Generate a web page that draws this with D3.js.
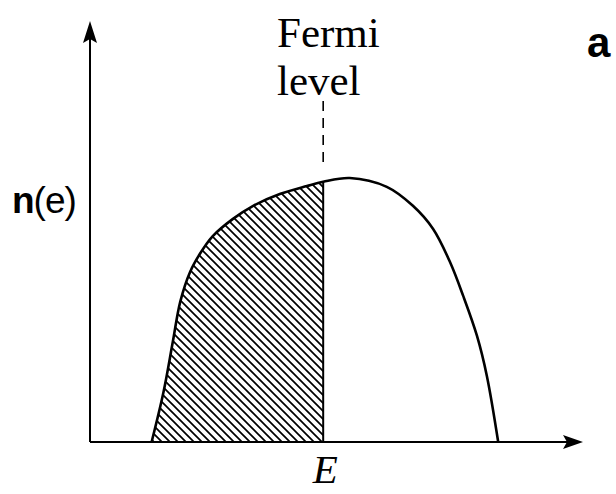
<!DOCTYPE html>
<html>
<head>
<meta charset="utf-8">
<script src="https://cdn.jsdelivr.net/npm/d3@7"></script>
<style>
  html, body { margin: 0; padding: 0; background: #fff; }
  svg { display: block; }
</style>
</head>
<body>
<div id="chart"></div>
<script>
// energy (arbitrary units) and density of states n(e)
const energy = [1.25, 1.49, 1.68, 1.83, 2.03, 2.23, 2.49, 2.90, 3.31, 3.85, 4.40, 4.73,
                5.27, 6.02, 6.55, 6.96, 7.30, 7.57, 7.85, 8.05, 8.28];
const density = [0, 1.18, 2.38, 3.33, 4.04, 4.47, 4.89, 5.30, 5.61, 5.89, 6.08, 6.18,
                 6.27, 6.06, 5.61, 5.06, 4.28, 3.47, 2.52, 1.57, 0];
const fermiEnergy = 4.73;
const fermiDash = [8.1, 6.5];
const labels = { fermi: ["Fermi", "level"], yAxis: "n(e)", xAxis: "E", panel: "a" };

const W = 616, H = 494;
const svg = d3.select("#chart").append("svg")
  .attr("width", W).attr("height", H);

const x = d3.scaleLinear().domain([0, 10]).range([90, 583]);
const y = d3.scaleLinear().domain([0, 10]).range([442, 21]);

const pts = energy.map((e, i) => ({ e, n: density[i] }));

// hatch pattern for occupied states
const defs = svg.append("defs");
const pat = defs.append("pattern")
  .attr("id", "hatch")
  .attr("patternUnits", "userSpaceOnUse")
  .attr("width", 8).attr("height", 8);
pat.append("path")
  .attr("d", "M-1,-1 L9,9 M-1,7 L1,9 M7,-1 L9,1")
  .attr("stroke", "#000")
  .attr("stroke-width", 1.7);

const line = d3.line()
  .x(d => x(d.e)).y(d => y(d.n))
  .curve(d3.curveCatmullRom.alpha(0.5));

// filled part: area under the curve up to the Fermi level
const occ = pts.filter(d => d.e <= fermiEnergy);
const area = d3.area()
  .x(d => x(d.e)).y0(y(0)).y1(d => y(d.n))
  .curve(d3.curveCatmullRom.alpha(0.5));
svg.append("path")
  .datum(occ)
  .attr("d", area)
  .attr("fill", "url(#hatch)");

// axes
svg.append("line")
  .attr("x1", x(0)).attr("x2", x(0))
  .attr("y1", y(0)).attr("y2", y(10) + 12)
  .attr("stroke", "#000").attr("stroke-width", 2);
svg.append("line")
  .attr("x1", x(0)).attr("x2", x(10) - 12)
  .attr("y1", y(0)).attr("y2", y(0))
  .attr("stroke", "#000").attr("stroke-width", 2);

svg.append("path")
  .attr("d", `M${x(0)},${y(10)} L${x(0) - 7},${y(10) + 22} L${x(0)},${y(10) + 18} L${x(0) + 7},${y(10) + 22} Z`)
  .attr("fill", "#000");
svg.append("path")
  .attr("d", `M${x(10)},${y(0)} L${x(10) - 20},${y(0) - 7} L${x(10) - 16},${y(0)} L${x(10) - 20},${y(0) + 7} Z`)
  .attr("fill", "#000");

// curve
svg.append("path")
  .datum(pts)
  .attr("d", line)
  .attr("fill", "none")
  .attr("stroke", "#000")
  .attr("stroke-width", 2.6)
  .attr("stroke-linejoin", "round");

// Fermi level: solid edge of the hatching plus dashed marker above
const nF = density[energy.indexOf(fermiEnergy)];
svg.append("line")
  .attr("x1", x(fermiEnergy)).attr("x2", x(fermiEnergy))
  .attr("y1", y(0)).attr("y2", y(nF))
  .attr("stroke", "#000").attr("stroke-width", 2);
svg.append("line")
  .attr("x1", x(fermiEnergy)).attr("x2", x(fermiEnergy))
  .attr("y1", y(fermiDash[0])).attr("y2", y(fermiDash[1]))
  .attr("stroke", "#000").attr("stroke-width", 1.6)
  .attr("stroke-dasharray", "10,7");

// labels
const serif = "'Liberation Serif', 'DejaVu Serif', serif";
svg.append("text")
  .attr("x", 277).attr("y", 47)
  .style("font-family", serif).style("font-size", "43px")
  .text(labels.fermi[0]);
svg.append("text")
  .attr("x", 277).attr("y", 95)
  .style("font-family", serif).style("font-size", "43px")
  .text(labels.fermi[1]);

const ny = svg.append("text")
  .attr("x", 12).attr("y", 213)
  .style("font-family", "'Liberation Sans', Arial, sans-serif")
  .style("font-size", "37px")
  .style("letter-spacing", "-1px");
ny.append("tspan").style("font-weight", "bold").text(labels.yAxis[0]);
ny.append("tspan").text(labels.yAxis.slice(1));

svg.append("text")
  .attr("x", x(fermiEnergy) + 2).attr("y", 483)
  .attr("text-anchor", "middle")
  .style("font-family", serif).style("font-size", "41px")
  .style("font-style", "italic")
  .text(labels.xAxis);

svg.append("text")
  .attr("x", 587).attr("y", 57)
  .style("font-family", "'Liberation Sans', Arial, sans-serif")
  .style("font-size", "42px").style("font-weight", "bold")
  .text(labels.panel);
</script>
</body>
</html>
